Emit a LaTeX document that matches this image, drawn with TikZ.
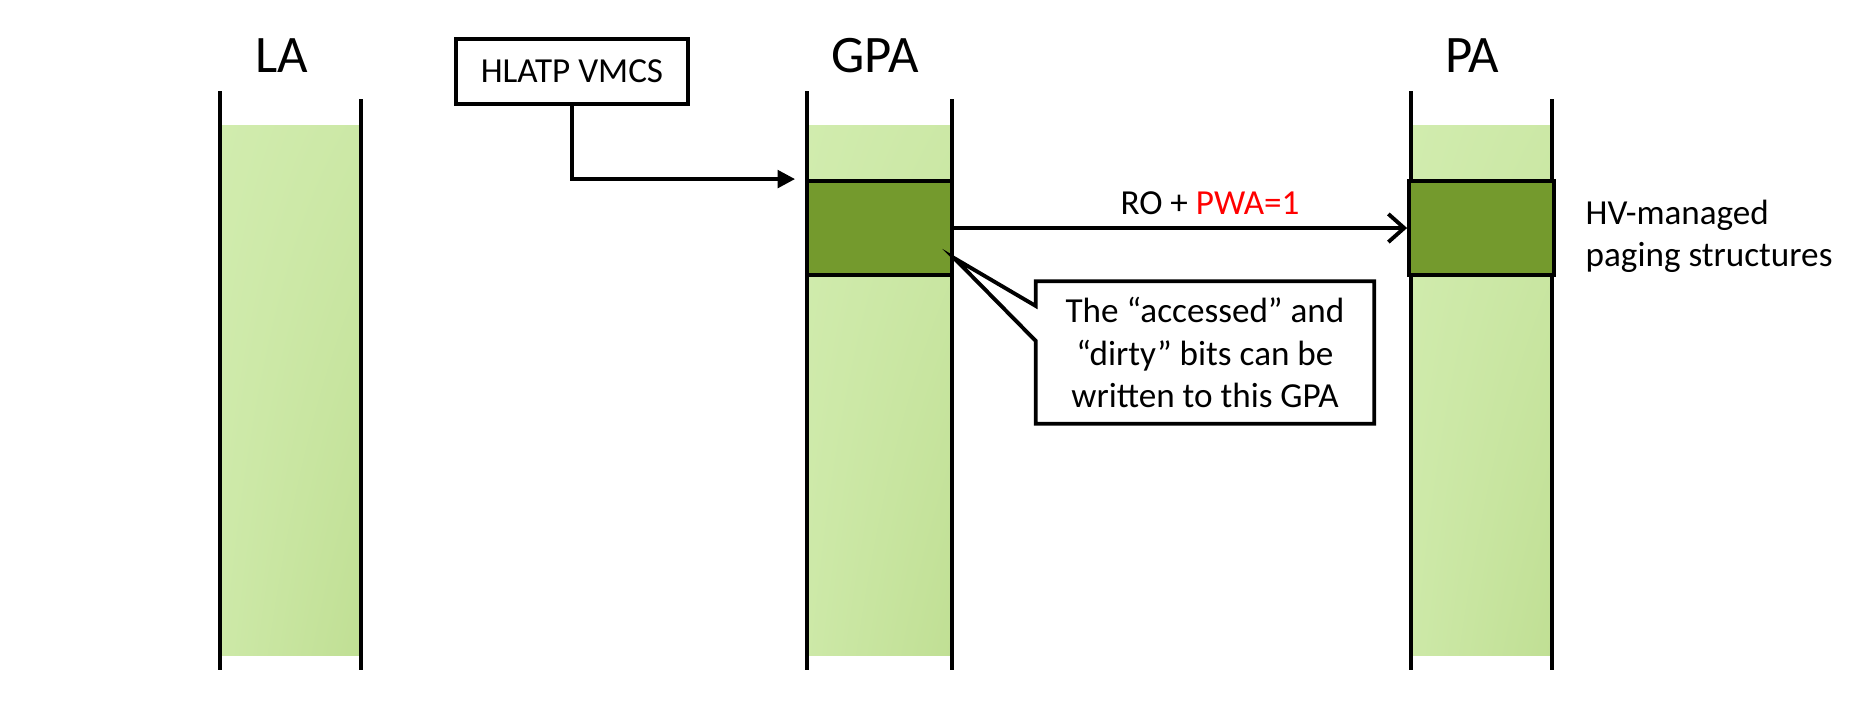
\documentclass[tikz,border=0pt]{standalone}
\usepackage{fontspec}
\setmainfont{Carlito}
\usepackage{xcolor}
\usepackage{tikz}
\usetikzlibrary{arrows.meta, positioning, calc, shadings}
\definecolor{pagelight}{RGB}{209,236,174}
\definecolor{pageshade}{RGB}{192,223,148}
\definecolor{pagedark}{RGB}{116,154,45}
\definecolor{pwared}{RGB}{255,0,0}
\tikzset{
  spacelabel/.style={font=\fontsize{15}{18}\selectfont},
  vmcsbox/.style={
    draw, line width=1.1pt, align=center,
    minimum width=2.32cm, minimum height=0.65cm
  },
  pageblock/.style={
    draw, line width=1.1pt, fill=pagedark, inner sep=0pt,
    minimum width=1.45cm, minimum height=0.94cm
  },
  notebox/.style={
    align=center, inner sep=0pt,
    minimum width=3.37cm, minimum height=1.41cm
  },
  noteline/.style={line width=1.1pt, line join=miter},
  colwall/.style={line width=1.1pt},
  ptrarrow/.style={-{Triangle[length=5pt,width=5pt]}, line width=1.1pt},
  maparrow/.style={-{Straight Barb[length=4.5pt,width=8pt]}, line width=1.1pt},
  fieldlabel/.style={align=left, inner sep=0pt},
}

\begin{document}
\begin{tikzpicture}
  \useasboundingbox (0,0) rectangle (18.51,7.09);
  % address space columns
  \foreach \xl/\xr in {2.20/3.61, 8.07/9.52, 14.11/15.52} {
    \shade[upper left=pagelight, upper right=pagelight!70!pageshade,
      lower left=pagelight!75!pageshade, lower right=pageshade]
      (\xl,0.54) rectangle (\xr,5.84);
    \draw[colwall] (\xl,6.18) -- (\xl,0.39);
    \draw[colwall] (\xr,6.10) -- (\xr,0.39);
  }
  \node[spacelabel] (lalbl) at (2.82,6.535) {LA};
  \node[spacelabel] (gpalbl) at (8.75,6.535) {GPA};
  \node[spacelabel] (palbl) at (14.72,6.535) {PA};
  % paging structure pages
  \node[pageblock] (gpablk) at (8.795,4.81) {};
  \node[pageblock] (pablk) at (14.815,4.81) {};
  % HLATP pointer
  \node[vmcsbox] (vmcs) at (5.72,6.375) {HLATP VMCS};
  \draw[ptrarrow, shorten >=0.1cm] (vmcs.south) |- (gpablk.north west);
  % GPA -> PA mapping
  \draw[maparrow] (gpablk.east) -- node[pos=0.565, above] (rolbl)
    {RO + \textcolor{pwared}{PWA=1}} (pablk.west);
  \node[fieldlabel, anchor=west] (hvlbl) at ($(pablk.east)+(0.29,-0.08)$)
    {HV-managed\\paging structures};
  % callout
  \node[notebox] (note) at (12.05,3.565)
    {The “accessed” and\\“dirty” bits can be\\written to this GPA};
  \coordinate (notetip) at ($(gpablk.south east)+(0,0.19)$);
  \draw[noteline] (note.north west) -- ($(note.west)+(0,0.465)$) -- (notetip)
    -- ($(note.west)+(0,0.115)$) -- (note.south west) -- (note.south east)
    -- (note.north east) -- cycle;
\end{tikzpicture}
\end{document}
